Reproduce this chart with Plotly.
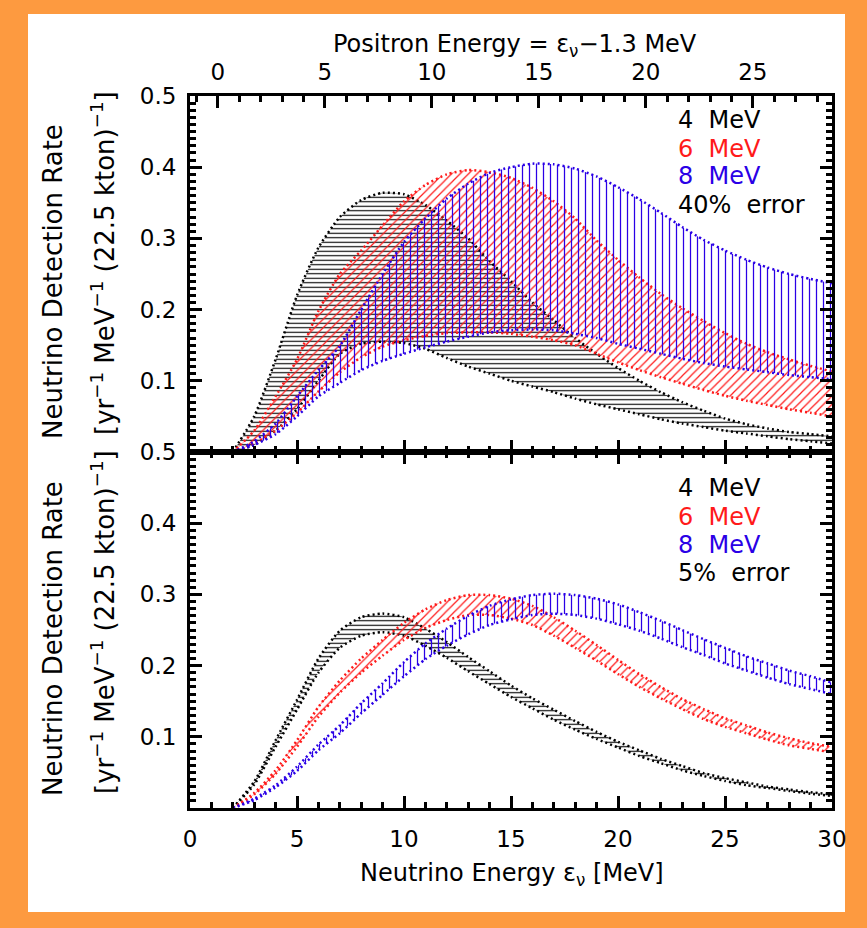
import plotly.graph_objects as go

# ---------------- data ----------------
energy = list(range(2, 31))  # neutrino energy [MeV]

# 40% error panel (top)
black_hi_40 = [0, 0.05, 0.13, 0.22, 0.287, 0.33, 0.354, 0.364, 0.362, 0.347, 0.325, 0.3, 0.268, 0.24, 0.21,
               0.185, 0.16, 0.138, 0.118, 0.1, 0.084, 0.07, 0.058, 0.047, 0.039, 0.033, 0.028, 0.025, 0.022]
black_lo_40 = [0, 0.01, 0.03, 0.06, 0.1, 0.138, 0.152, 0.155, 0.153, 0.145, 0.132, 0.12, 0.11, 0.1, 0.092,
               0.084, 0.075, 0.067, 0.06, 0.053, 0.046, 0.04, 0.035, 0.03, 0.026, 0.022, 0.018, 0.015, 0.012]
red_hi_40 = [0, 0.03, 0.078, 0.13, 0.198, 0.25, 0.283, 0.318, 0.352, 0.375, 0.39, 0.396, 0.393, 0.385, 0.371,
             0.352, 0.328, 0.297, 0.27, 0.245, 0.222, 0.202, 0.184, 0.167, 0.152, 0.14, 0.13, 0.121, 0.113]
red_lo_40 = [0, 0.012, 0.03, 0.055, 0.085, 0.112, 0.133, 0.148, 0.157, 0.163, 0.167, 0.168, 0.168, 0.166, 0.162,
             0.157, 0.15, 0.138, 0.126, 0.115, 0.105, 0.096, 0.087, 0.079, 0.072, 0.066, 0.06, 0.055, 0.05]
blue_hi_40 = [0, 0.015, 0.04, 0.078, 0.115, 0.149, 0.2, 0.25, 0.295, 0.328, 0.356, 0.377, 0.392, 0.4, 0.405,
              0.404, 0.398, 0.387, 0.372, 0.355, 0.336, 0.316, 0.298, 0.283, 0.27, 0.259, 0.25, 0.243, 0.237]
blue_lo_40 = [0, 0.01, 0.025, 0.05, 0.078, 0.097, 0.115, 0.128, 0.138, 0.147, 0.155, 0.162, 0.168, 0.171, 0.172,
              0.171, 0.166, 0.16, 0.152, 0.145, 0.138, 0.131, 0.125, 0.12, 0.116, 0.112, 0.108, 0.105, 0.102]

# 5% error panel (bottom)
black_hi_5 = [0, 0.037, 0.095, 0.152, 0.21, 0.249, 0.268, 0.273, 0.268, 0.252, 0.233, 0.212, 0.192, 0.172, 0.154,
              0.138, 0.122, 0.107, 0.093, 0.081, 0.069, 0.059, 0.049, 0.042, 0.036, 0.030, 0.026, 0.022, 0.019]
black_lo_5 = [0, 0.033, 0.086, 0.138, 0.19, 0.225, 0.242, 0.247, 0.242, 0.228, 0.211, 0.192, 0.174, 0.156, 0.140,
              0.124, 0.110, 0.097, 0.085, 0.073, 0.063, 0.053, 0.045, 0.038, 0.032, 0.028, 0.024, 0.020, 0.017]
red_hi_5 = [0, 0.021, 0.053, 0.095, 0.142, 0.179, 0.21, 0.236, 0.26, 0.279, 0.292, 0.299, 0.299, 0.294, 0.284,
            0.268, 0.249, 0.229, 0.208, 0.188, 0.17, 0.153, 0.139, 0.126, 0.116, 0.106, 0.098, 0.091, 0.086]
red_lo_5 = [0, 0.019, 0.048, 0.086, 0.128, 0.162, 0.19, 0.214, 0.236, 0.253, 0.264, 0.271, 0.271, 0.266, 0.257,
            0.242, 0.225, 0.207, 0.188, 0.17, 0.154, 0.139, 0.125, 0.114, 0.105, 0.096, 0.088, 0.083, 0.078]
blue_hi_5 = [0, 0.013, 0.032, 0.058, 0.089, 0.116, 0.147, 0.175, 0.205, 0.231, 0.252, 0.27, 0.284, 0.293, 0.299,
             0.301, 0.299, 0.294, 0.286, 0.275, 0.263, 0.25, 0.237, 0.225, 0.213, 0.203, 0.193, 0.185, 0.176]
blue_lo_5 = [0, 0.011, 0.029, 0.052, 0.081, 0.105, 0.133, 0.159, 0.185, 0.209, 0.228, 0.244, 0.257, 0.265, 0.271,
             0.273, 0.271, 0.266, 0.258, 0.249, 0.238, 0.226, 0.215, 0.203, 0.193, 0.183, 0.174, 0.167, 0.160]

series_labels = ["4  MeV", "6  MeV", "8  MeV"]
panel_errors = ["40% error", "5% error"]
x_ticks = [0, 5, 10, 15, 20, 25, 30]
positron_ticks = [0, 5, 10, 15, 20, 25]
y_ticks = [0.1, 0.2, 0.3, 0.4, 0.5]
positron_offset = 1.3

# ---------------- style ----------------
BLACK = "#000000"
RED = "#ff1a1a"
BLUE = "#2a00e6"
ORANGE = "#fd9a40"
FONT = "DejaVu Sans"
colors = [BLACK, RED, BLUE]
patterns = [dict(shape="-", size=4.5, solidity=0.25),
            dict(shape="/", size=6, solidity=0.2),
            dict(shape="|", size=7, solidity=0.18)]

fig = go.Figure()

panels = [
    ("y", [(black_lo_40, black_hi_40), (red_lo_40, red_hi_40), (blue_lo_40, blue_hi_40)]),
    ("y2", [(black_lo_5, black_hi_5), (red_lo_5, red_hi_5), (blue_lo_5, blue_hi_5)]),
]
for yref, bands in panels:
    xref = "x" if yref == "y" else "x2"
    for (lo, hi), col, pat in zip(bands, colors, patterns):
        fig.add_trace(go.Scatter(
            x=energy, y=lo, xaxis=xref, yaxis=yref, mode="lines",
            line=dict(color=col, width=2.5, dash="2px,3px", shape="spline", smoothing=0.6),
            showlegend=False, hoverinfo="skip"))
        fig.add_trace(go.Scatter(
            x=energy, y=hi, xaxis=xref, yaxis=yref, mode="lines", fill="tonexty",
            fillcolor="rgba(0,0,0,0)",
            fillpattern=dict(fgcolor=col, bgcolor="rgba(0,0,0,0)", fillmode="replace", **pat),
            line=dict(color=col, width=2.5, dash="2px,3px", shape="spline", smoothing=0.6),
            showlegend=False, hoverinfo="skip"))

# dummy trace to carry the positron-energy axis
fig.add_trace(go.Scatter(x=[-positron_offset, 30 - positron_offset], y=[None, None],
                         xaxis="x3", yaxis="y", mode="lines", showlegend=False, hoverinfo="skip"))

tickfont = dict(family=FONT, size=23, color="black")
minor_x = dict(dtick=1, tick0=0, ticks="inside", ticklen=6, tickwidth=2.5, tickcolor="black")
common_x = dict(range=[0, 30], tickvals=x_ticks, ticks="inside", ticklen=12, tickwidth=2.5,
                tickcolor="black", showline=True, linecolor="black", linewidth=3,
                showgrid=False, zeroline=False, minor=minor_x)
common_y = dict(range=[0, 0.5], tickvals=y_ticks, ticktext=[f"{v:.1f}" for v in y_ticks],
                ticks="inside", ticklen=12, tickwidth=2.5, tickcolor="black",
                showline=True, linecolor="black", linewidth=3, mirror="ticks",
                showgrid=False, zeroline=False, tickfont=tickfont, ticklabelstandoff=6,
                minor=dict(dtick=0.01, tick0=0, ticks="inside", ticklen=6, tickwidth=2.5, tickcolor="black"))

W, H = 867, 928
ML, MR, MT, MB = 190, 35, 96, 120

fig.update_layout(
    width=W, height=H,
    margin=dict(l=ML, r=MR, t=MT, b=MB),
    paper_bgcolor=ORANGE, plot_bgcolor="white",
    font=dict(family=FONT, size=23, color="black"),
    xaxis=dict(common_x, anchor="y", showticklabels=False),
    xaxis2=dict(common_x, anchor="y2", mirror="ticks", tickfont=tickfont, ticklabelstandoff=8),
    xaxis3=dict(range=[-positron_offset, 30 - positron_offset], overlaying="x", side="top", anchor="y",
                tickvals=positron_ticks, ticks="inside", ticklen=12, tickwidth=2.5,
                tickcolor="black", showline=True, linecolor="black", linewidth=3,
                showgrid=False, zeroline=False, tickfont=tickfont, ticklabelstandoff=4, minor=minor_x),
    yaxis=dict(common_y, domain=[0.5, 1], anchor="x"),
    yaxis2=dict(common_y, domain=[0, 0.5], anchor="x2"),
)

pw = W - ML - MR
ph = H - MT - MB


def px_x(X):
    return (X - ML) / pw


def px_y(Y):
    return (H - MB - Y) / ph


shapes = [dict(type="rect", xref="paper", yref="paper", x0=px_x(28), x1=px_x(845),
               y0=px_y(912), y1=px_y(14), fillcolor="white", line=dict(width=0), layer="below")]
fig.update_layout(shapes=shapes)

ann = []
ann.append(dict(xref="paper", yref="paper", x=px_x(515), y=px_y(45), xanchor="center", yanchor="middle",
                showarrow=False, text="Positron Energy = ε<sub>ν</sub>−1.3 MeV",
                font=dict(family=FONT, size=24)))
ann.append(dict(xref="paper", yref="paper", x=px_x(512), y=px_y(874), xanchor="center", yanchor="middle",
                showarrow=False, text="Neutrino Energy ε<sub>ν</sub> [MeV]",
                font=dict(family=FONT, size=24)))
for c1, c2 in [(282, 263), (639, 622)]:
    ann.append(dict(xref="paper", yref="paper", x=px_x(53), y=px_y(c1), xanchor="center", yanchor="middle",
                    showarrow=False, textangle=-90,
                    text="Neutrino Detection Rate", font=dict(family=FONT, size=26)))
    ann.append(dict(xref="paper", yref="paper", x=px_x(103), y=px_y(c2), xanchor="center", yanchor="middle",
                    showarrow=False, textangle=-90,
                    text="[yr<sup>−1</sup> MeV<sup>−1</sup> (22.5 kton)<sup>−1</sup>]",
                    font=dict(family=FONT, size=26)))
for (xr, yr), ys, err in [(("x", "y"), [0.466, 0.426, 0.387, 0.347], panel_errors[0]),
                          (("x2", "y2"), [0.449, 0.409, 0.37, 0.33], panel_errors[1])]:
    for lab, col, yv in zip(series_labels + [err], colors + [BLACK], ys):
        ann.append(dict(xref=xr, yref=yr, x=22.7, y=yv, xanchor="left", yanchor="middle", showarrow=False,
                        text=lab.replace("  ", "\u00a0 ").replace("% ", "%\u00a0 "),
                        font=dict(family=FONT, size=24, color=col)))
fig.update_layout(annotations=ann)

fig.write_html("out.html", config={"displayModeBar": False},
               post_script="document.body.style.margin='0px';document.body.style.background='%s';" % ORANGE)
